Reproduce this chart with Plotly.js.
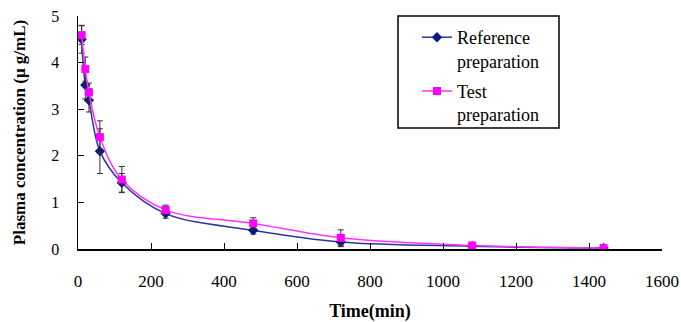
<!DOCTYPE html>
<html><head><meta charset="utf-8">
<script src="https://cdn.plot.ly/plotly-3.0.1.min.js"></script>
<style>body{margin:0;background:#fff}#c{width:681px;height:322px}</style>
</head><body><div id="c"></div>
<script>
const times = [10, 20, 30, 60, 120, 240, 480, 720, 1080, 1440];
const refMean = [4.50, 3.52, 3.19, 2.10, 1.42, 0.76, 0.40, 0.15, 0.06, 0.02];
const refSD   = [0.30, 0.30, 0.25, 0.48, 0.20, 0.10, 0.08, 0.10, 0.02, 0.01];
const testMean = [4.59, 3.86, 3.36, 2.40, 1.49, 0.84, 0.55, 0.24, 0.075, 0.02];
const testSD   = [0.20, 0.26, 0.20, 0.35, 0.28, 0.10, 0.12, 0.17, 0.02, 0.01];
const xTicks = [0, 200, 400, 600, 800, 1000, 1200, 1400, 1600];
const yTicks = [0, 1, 2, 3, 4, 5];

const font = {family: '"Liberation Serif", "Times New Roman", serif', color: '#000'};
const traces = [
  {x: times, y: refMean, name: 'Reference<br>preparation', mode: 'lines+markers', legendgroup: 'a',
   line: {color: '#2a35a0', width: 1.5, shape: 'spline'},
   marker: {symbol: 'diamond', size: 8, color: '#0a1a7a'},
   error_y: {type: 'data', array: refSD, visible: true, color: '#333', thickness: 1, width: 3}},
  {x: times, y: testMean, name: 'Test<br>preparation', mode: 'lines+markers', legendgroup: 'b',
   line: {color: '#ff33ff', width: 1.5, shape: 'spline'},
   marker: {symbol: 'square', size: 8, color: '#ff00ff'},
   error_y: {type: 'data', array: testSD, visible: true, color: '#333', thickness: 1, width: 3}}
];
const layout = {
  width: 681, height: 322,
  margin: {l: 78, r: 19, t: 16, b: 73},
  paper_bgcolor: '#fff', plot_bgcolor: '#fff',
  font: Object.assign({size: 16}, font),
  showlegend: true,
  legend: {x: (417 - 78) / 584, y: (249 - 19) / 233, xanchor: 'left', yanchor: 'top', borderwidth: 0,
           valign: 'top', bgcolor: 'rgba(0,0,0,0)', font: Object.assign({size: 18}, font), tracegroupgap: 4},
  shapes: [{type: 'rect', xref: 'paper', yref: 'paper',
            x0: (398 - 78) / 584, x1: (559 - 78) / 584, y0: (249 - 128) / 233, y1: (249 - 16) / 233,
            line: {color: '#000', width: 1.5}, fillcolor: 'rgba(0,0,0,0)', layer: 'above'}],
  xaxis: {range: [0, 1600], tickvals: xTicks, ticktext: xTicks.map(String), showgrid: false, zeroline: false,
          showline: true, linecolor: '#000', linewidth: 1.5, ticks: 'inside', ticklen: 6, tickcolor: '#000',
          ticklabelstandoff: 16, tickfont: Object.assign({size: 17}, font),
          title: {text: '<b>Time(min)</b>', font: Object.assign({size: 18}, font), standoff: 14}},
  yaxis: {range: [0, 5], tickvals: yTicks, showgrid: false, zeroline: false,
          showline: true, linecolor: '#000', linewidth: 1.5, ticks: 'inside', ticklen: 6, tickcolor: '#000',
          ticklabelstandoff: 14, tickfont: Object.assign({size: 16}, font),
          title: {text: '<b>Plasma concentration (μ g/mL)</b>', font: Object.assign({size: 17}, font), standoff: 21}}
};
Plotly.newPlot('c', traces, layout, {displayModeBar: false, staticPlot: true});
</script></body></html>
